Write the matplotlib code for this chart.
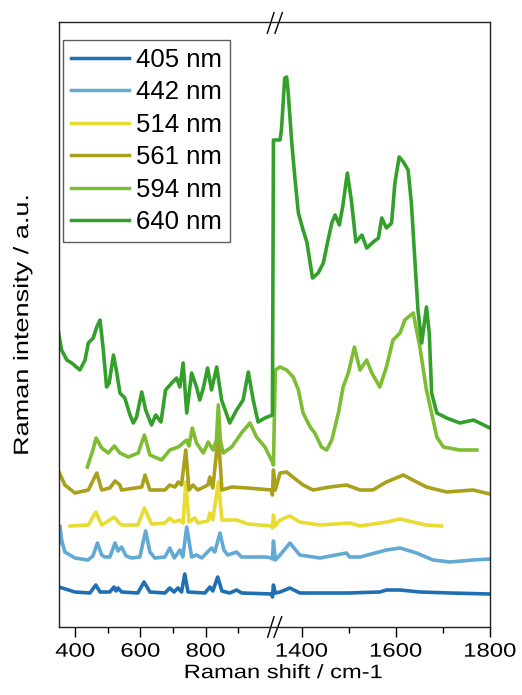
import numpy as np
import matplotlib
matplotlib.use("Agg")
import matplotlib.pyplot as plt
import matplotlib.patheffects as pe
from matplotlib.transforms import Affine2D

plt.rcParams['font.family'] = ['Liberation Sans', 'DejaVu Sans']

labels = ["405 nm", "442 nm", "514 nm", "561 nm", "594 nm", "640 nm"]
colors = ["#1f6fb2", "#62a9d4", "#e8dc32", "#a9a01b", "#7dbd33", "#33a02c"]

# Raman shift (cm-1) and stacked intensity (a.u.)
x405 = [350, 399, 445, 463, 476, 506, 519, 525, 531, 542, 592, 611, 629, 675, 690, 703, 715, 726, 736, 746,
        798, 813, 822, 837, 850, 874, 895, 911, 1004, 1005,
        1340, 1344, 1354, 1375, 1396, 1439, 1500, 1566, 1580, 1609, 1651, 1715, 1800]
y405 = [40, 35, 34, 42, 35, 35, 40, 36, 39, 35, 34, 45, 35, 34, 39, 35, 39, 35, 53, 35,
        34, 40, 36, 50, 36, 34, 37, 34, 33, 30,
        42, 34, 35, 39, 34, 34, 34, 35, 37, 37, 35, 34, 33]

x442 = [350, 353, 358, 368, 399, 439, 454, 468, 481, 491, 506, 522, 531, 542, 556, 573, 598, 616, 629, 644,
        675, 690, 704, 721, 730, 742, 757, 772, 788, 818, 828, 844, 856, 868, 895, 910, 982, 1004, 1005,
        1340, 1344, 1354, 1375, 1396, 1439, 1495, 1502, 1524, 1580, 1609, 1644, 1679, 1715, 1764, 1800]
y442 = [84, 101, 87, 75, 69, 67, 71, 84, 72, 70, 70, 84, 76, 80, 71, 69, 70, 96, 75, 69,
        70, 79, 69, 77, 70, 100, 70, 72, 69, 79, 75, 94, 77, 72, 75, 70, 70, 69, 68,
        86, 67, 72, 84, 72, 69, 74, 70, 70, 77, 79, 74, 67, 65, 67, 68]

x514 = [384, 440, 463, 481, 506, 519, 532, 542, 592, 612, 634, 675, 690, 703, 721, 731, 739, 749, 767, 776,
        807, 813, 822, 839, 850, 895, 930, 1004, 1005,
        1340, 1344, 1354, 1375, 1396, 1439, 1502, 1524, 1580, 1609, 1636, 1665, 1697]
y514 = [101, 102, 115, 102, 107, 110, 105, 102, 102, 119, 103, 104, 109, 105, 107, 104, 145, 105, 109, 104,
        106, 114, 107, 145, 107, 107, 103, 101, 99,
        112, 101, 107, 111, 105, 102, 104, 101, 105, 108, 105, 102, 101]

x561 = [350, 368, 399, 440, 466, 481, 506, 522, 537, 542, 604, 614, 629, 675, 690, 706, 716, 726, 739, 749,
        761, 776, 807, 813, 822, 839, 850, 880, 930, 1002, 1005,
        1340, 1344, 1354, 1368, 1381, 1403, 1424, 1460, 1495, 1524, 1551, 1580, 1616, 1636, 1665, 1708, 1764, 1800]
y561 = [155, 142, 134, 137, 154, 137, 139, 146, 142, 137, 140, 152, 137, 137, 142, 140, 145, 142, 177, 137,
        142, 137, 142, 150, 139, 192, 137, 140, 139, 137, 132,
        157, 137, 154, 155, 150, 142, 137, 140, 142, 137, 137, 145, 152, 147, 140, 135, 137, 133]

x594 = [437, 454, 464, 481, 501, 520, 537, 563, 593, 612, 629, 665, 690, 716, 731, 742, 749, 759, 772, 793,
        808, 823, 833, 839, 845, 854, 880, 910, 936, 956, 982, 1005,
        1340, 1344, 1354, 1368, 1382, 1393, 1403, 1418, 1428, 1442, 1453, 1464, 1478, 1488, 1499, 1512, 1524,
        1538, 1549, 1566, 1580, 1594, 1609, 1619, 1637, 1651, 1665, 1676, 1687, 1701, 1736, 1772]
y594 = [160, 177, 189, 179, 174, 181, 174, 170, 174, 192, 172, 167, 177, 180, 184, 187, 181, 199, 184, 174,
        185, 177, 187, 222, 187, 174, 180, 194, 204, 190, 180, 165,
        162, 257, 260, 257, 250, 237, 214, 200, 194, 180, 177, 187, 214, 240, 254, 280, 257,
        267, 254, 240, 260, 287, 294, 307, 314, 280, 237, 214, 190, 180, 177, 177]

x640 = [349, 358, 374, 389, 414, 430, 440, 455, 466, 476, 486, 496, 504, 517, 527, 537, 552, 568, 578, 588,
        604, 616, 634, 647, 663, 677, 696, 711, 721, 731, 742, 757, 772, 782, 793, 806, 818, 834, 849, 874,
        895, 915, 931, 946, 961, 982, 1005,
        1340, 1354, 1357, 1364, 1368, 1371, 1379, 1386, 1393, 1403, 1411, 1423, 1435, 1446, 1456, 1464,
        1471, 1480, 1487, 1497, 1506, 1515, 1528, 1538, 1552, 1563, 1570, 1580, 1591, 1598, 1607, 1616, 1626,
        1633, 1640, 1647, 1655, 1665, 1671, 1676, 1687, 1708, 1736, 1765, 1800]
y640 = [294, 277, 267, 264, 257, 267, 284, 289, 300, 307, 277, 240, 244, 272, 255, 234, 229, 212, 204, 210,
        235, 217, 202, 212, 205, 237, 244, 249, 240, 264, 214, 254, 240, 227, 239, 259, 237, 260, 227, 204,
        217, 227, 255, 227, 205, 209, 212,
        487, 487, 497, 549, 550, 537, 484, 447, 414, 397, 385, 349, 354, 364, 387, 404,
        412, 402, 420, 454, 425, 385, 392, 379, 385, 389, 409, 399, 404, 444, 470, 465, 457,
        424, 370, 317, 284, 320, 294, 234, 214, 209, 204, 207, 199]

xs = [x405, x442, x514, x561, x594, x640]
ys = [y405, y442, y514, y561, y594, y640]

major_ticks = [400, 600, 800, 1400, 1600, 1800]
minor_ticks = [500, 700, 900, 1500, 1700]

# broken-axis scale (layout constants)
X0, B1, B2 = 348.5, 1006.0, 1339.0
S1, S2 = 0.326, 0.471
P1 = (B1 - X0) * S1
P2 = P1 + 0.2


def fwd(w):
    w = np.asarray(w, dtype=float)
    mid = P1 + (w - B1) * (P2 - P1) / (B2 - B1)
    return np.where(w <= B1, (w - X0) * S1, np.where(w >= B2, P2 + (w - B2) * S2, mid))


def inv(p):
    p = np.asarray(p, dtype=float)
    mid = B1 + (p - P1) * (B2 - B1) / (P2 - P1)
    return np.where(p <= P1, X0 + p / S1, np.where(p >= P2, B2 + (p - P2) / S2, mid))


class Stretch(pe.AbstractPathEffect):
    """Widen text along its own direction, about the centre of the glyphs."""
    def __init__(self, sx):
        super().__init__()
        self.sx = sx

    def draw_path(self, renderer, gc, tpath, affine, rgbFace=None):
        ext = tpath.get_extents()
        cx = 0.5 * (ext.x0 + ext.x1)
        t = Affine2D().translate(-cx, 0).scale(self.sx, 1.0).translate(cx, 0)
        renderer.draw_path(gc, tpath, t + affine, rgbFace)


fig = plt.figure(figsize=(5.22, 6.95), dpi=100)
ax = fig.add_axes([58.5 / 522, 1 - 627 / 695, 431.5 / 522, 605 / 695])
ax.set_xscale('function', functions=(fwd, inv))

for x, y, c, lab in zip(xs, ys, colors, labels):
    ax.plot(x, y, color=c, lw=2.6, label=lab, solid_joinstyle='round')

ax.set_xlim(348.5, 1800)
ax.set_ylim(0, 605)
ax.set_xticks(major_ticks)
ax.set_xticklabels([str(t) for t in major_ticks])
ax.set_xticks(minor_ticks, minor=True)
ax.set_yticks([])
ax.tick_params(axis='x', which='major', direction='out', length=7.5, width=1, labelsize=14, pad=4.5)
ax.tick_params(axis='x', which='minor', direction='out', length=4.5, width=1)
for s in ax.spines.values():
    s.set_linewidth(1.0)
    s.set_color('#222222')

for tk in ax.xaxis.get_major_ticks():
    tk.label1.set_path_effects([Stretch(1.23)])

xl = ax.set_xlabel("Raman shift / cm-1", fontsize=14)
xl.set_path_effects([Stretch(1.22)])
ax.xaxis.set_label_coords(0.522, -0.063)
yl = ax.set_ylabel("Raman intensity / a.u.", fontsize=15, labelpad=19)
yl.set_path_effects([Stretch(1.3)])

# break marks
for (xa, xb) in [(0.4839, 0.4994), (0.5017, 0.5187)]:
    ax.plot([xa, xb], [0.9813, 1.0155], transform=ax.transAxes, color='k', lw=1.0, clip_on=False)
for (xa, xb) in [(0.4848, 0.4994), (0.4994, 0.5173)]:
    ax.plot([xa, xb], [-0.017, 0.017], transform=ax.transAxes, color='k', lw=1.0, clip_on=False)

leg = ax.legend(loc='upper left', bbox_to_anchor=(0.011, 0.970), borderaxespad=0,
                fontsize=18.5, frameon=True, fancybox=False, edgecolor='#333333',
                handlelength=2.25, handletextpad=0.3, labelspacing=0.33, borderpad=0.3)
leg.get_frame().set_linewidth(1.0)
for h in leg.get_lines():
    h.set_linewidth(2.5)

fig.savefig("out.png", dpi=100)
